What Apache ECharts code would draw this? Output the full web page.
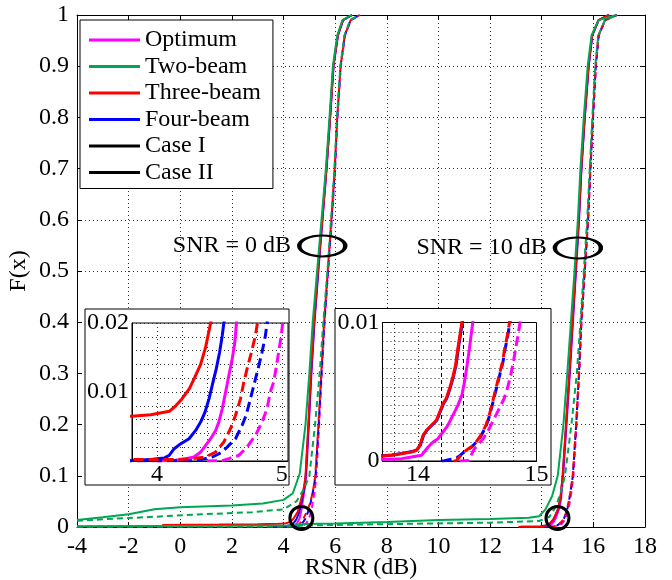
<!DOCTYPE html>
<html><head><meta charset="utf-8">
<script src="https://cdn.jsdelivr.net/npm/echarts@6/dist/echarts.min.js"></script>
<style>html,body{margin:0;padding:0;background:#fff}#c{width:672px;height:580px}</style>
</head><body><div id="c"></div>
<script>
const FONT = "'Liberation Serif','Times New Roman',Times,serif";

// ---------- names / labels ----------
const methodNames = ['Optimum', 'Two-beam', 'Three-beam', 'Four-beam'];
const caseNames = ['Case I', 'Case II'];
const snrLabels = ['SNR = 0 dB', 'SNR = 10 dB'];
const mainXTicks = [-4, 18, 2];        // min, max, step
const mainYTicks = [0, 1, 0.1];
const inset1XRange = [3.8, 5.05, 0.2];
const inset1YRange = [0, 0.02, 0.002];
const inset1XLabels = [4, 5];
const inset1YLabels = [0.01, 0.02];
const inset2XRange = [13.7, 15, 0.1];
const inset2XLabels = [14, 15];
const inset2YRange = [0, 0.01, 0.01];
const inset2XGrid = [13.8, 14.0, 14.6, 14.8];
const inset2XMarks = [14.2, 14.38];
const inset2YGrid = [0.00067, 0.00133, 0.002, 0.00267, 0.00333, 0.004, 0.00467, 0.00533, 0.006, 0.00667, 0.00733, 0.008, 0.00867, 0.00933];

// ---------- SNR = 0 dB curves [RSNR, F] ----------
const optimumI0 = [[4.0,0],[4.151,0.0001],[4.231,0.00034],[4.297,0.00058],[4.35,0.0013],[4.39,0.00227],[4.43,0.00323],[4.47,0.00443],[4.496,0.00564],[4.523,0.00757],[4.55,0.00998],[4.576,0.01239],[4.603,0.0148],[4.624,0.0172],[4.637,0.02],[4.68,0.03],[4.73,0.045],[4.82,0.075],[4.88,0.1],[4.98,0.2],[5.08,0.3],[5.2,0.4],[5.35,0.5],[5.51,0.6],[5.67,0.7],[5.81,0.8],[5.94,0.9],[6.11,0.96],[6.31,0.99],[6.66,1]];
const optimumII0 = [[4.4,0],[4.523,0.00005],[4.576,0.00034],[4.656,0.00082],[4.722,0.00202],[4.789,0.00371],[4.842,0.00564],[4.882,0.00757],[4.908,0.00998],[4.935,0.01142],[4.954,0.01335],[4.975,0.01576],[4.996,0.01817],[5.007,0.02],[5.07,0.03],[5.14,0.05],[5.22,0.075],[5.27,0.1],[5.38,0.2],[5.48,0.3],[5.59,0.4],[5.73,0.5],[5.87,0.6],[6.0,0.7],[6.09,0.8],[6.22,0.9],[6.38,0.96],[6.61,0.99],[6.96,1]];
const twoI0 = [[-4,0.0137],[-3,0.019],[-2,0.025],[-1,0.0345],[0,0.0385],[2,0.042],[3.2,0.046],[4,0.053],[4.36,0.066],[4.63,0.105],[4.85,0.2],[5.0,0.3],[5.13,0.4],[5.3,0.5],[5.47,0.6],[5.64,0.7],[5.78,0.8],[5.91,0.9],[6.08,0.96],[6.28,0.99],[6.65,1]];
const twoII0 = [[-4,0.012],[-3,0.015],[-1,0.02],[0.9,0.025],[2.8,0.029],[4,0.0345],[4.5,0.05],[4.8,0.075],[5.0,0.1],[5.22,0.2],[5.4,0.3],[5.54,0.4],[5.7,0.5],[5.84,0.6],[5.97,0.7],[6.07,0.8],[6.2,0.9],[6.36,0.96],[6.58,0.99],[6.95,1]];
const threeI0 = [[-0.7,0.004],[1.5,0.0047],[3,0.0055],[3.8,0.0065],[3.95,0.0067],[4.1,0.0072],[4.15,0.008],[4.2,0.009],[4.26,0.0105],[4.3,0.012],[4.35,0.014],[4.39,0.0165],[4.43,0.02],[4.55,0.03],[4.66,0.05],[4.8,0.08],[4.85,0.1],[4.96,0.2],[5.06,0.3],[5.18,0.4],[5.33,0.5],[5.5,0.6],[5.66,0.7],[5.8,0.8],[5.93,0.9],[6.1,0.96],[6.3,0.99],[6.65,1]];
const threeII0 = [[-4,0.0002],[3.8,0.0002],[4.151,0.0002],[4.284,0.00034],[4.39,0.00058],[4.47,0.0013],[4.536,0.00275],[4.589,0.00467],[4.629,0.0066],[4.669,0.00901],[4.696,0.01142],[4.722,0.01335],[4.757,0.01576],[4.789,0.01817],[4.805,0.02],[4.9,0.03],[5.02,0.045],[5.14,0.07],[5.23,0.1],[5.35,0.2],[5.46,0.3],[5.57,0.4],[5.71,0.5],[5.85,0.6],[5.98,0.7],[6.08,0.8],[6.21,0.9],[6.37,0.96],[6.6,0.99],[6.95,1]];
const fourI0 = [[3.6,0],[3.858,0.0001],[3.965,0.00024],[4.058,0.00043],[4.098,0.00082],[4.138,0.00178],[4.191,0.00251],[4.257,0.00323],[4.31,0.00443],[4.35,0.00564],[4.385,0.00708],[4.417,0.00901],[4.449,0.01142],[4.475,0.01335],[4.502,0.01576],[4.523,0.01817],[4.536,0.02],[4.6,0.028],[4.68,0.045],[4.8,0.075],[4.86,0.1],[4.97,0.2],[5.07,0.3],[5.19,0.4],[5.34,0.5],[5.5,0.6],[5.66,0.7],[5.8,0.8],[5.93,0.9],[6.1,0.96],[6.3,0.99],[6.65,1]];
const fourII0 = [[3.6,0],[4.297,0.00005],[4.364,0.00024],[4.443,0.00058],[4.523,0.0013],[4.576,0.00227],[4.629,0.00323],[4.682,0.00516],[4.714,0.0066],[4.749,0.00901],[4.776,0.01094],[4.81,0.01335],[4.842,0.01576],[4.869,0.01817],[4.882,0.02],[4.95,0.03],[5.06,0.05],[5.16,0.075],[5.24,0.1],[5.36,0.2],[5.47,0.3],[5.58,0.4],[5.72,0.5],[5.86,0.6],[5.99,0.7],[6.08,0.8],[6.21,0.9],[6.37,0.96],[6.6,0.99],[6.95,1]];

// ---------- SNR = 10 dB curves [RSNR, F] ----------
const optimumI10 = [[13.3,0.0001],[13.7,0.00012],[13.778,0.00012],[13.862,0.00017],[13.945,0.00029],[14.029,0.00041],[14.085,0.00101],[14.127,0.00137],[14.169,0.00161],[14.211,0.0021],[14.252,0.00258],[14.294,0.0033],[14.336,0.00402],[14.37,0.00475],[14.392,0.00571],[14.414,0.00692],[14.434,0.00812],[14.448,0.00908],[14.462,0.01],[14.52,0.015],[14.58,0.022],[14.67,0.035],[14.75,0.055],[14.83,0.1],[14.96,0.2],[15.09,0.3],[15.21,0.4],[15.33,0.5],[15.45,0.6],[15.54,0.7],[15.67,0.8],[15.82,0.9],[15.96,0.96],[16.21,0.99],[16.62,1]];
const optimumII10 = [[14.35,0],[14.428,0.00003],[14.448,0.00041],[14.476,0.00089],[14.517,0.00125],[14.559,0.00173],[14.601,0.00234],[14.643,0.00306],[14.685,0.00378],[14.727,0.00451],[14.754,0.00523],[14.782,0.00619],[14.805,0.00716],[14.824,0.00812],[14.844,0.00908],[14.861,0.01],[14.91,0.015],[14.97,0.023],[15.05,0.038],[15.14,0.065],[15.23,0.1],[15.35,0.2],[15.45,0.3],[15.54,0.4],[15.67,0.5],[15.8,0.6],[15.89,0.7],[15.99,0.8],[16.1,0.9],[16.21,0.96],[16.46,0.99],[16.92,1]];
const twoI10 = [[-4,0.0015],[2,0.0022],[4.4,0.003],[4.8,0.006],[6,0.007],[8,0.01],[10,0.0135],[12,0.0157],[13.5,0.018],[13.9,0.021],[14.15,0.035],[14.4,0.06],[14.62,0.1],[14.84,0.2],[14.99,0.3],[15.13,0.4],[15.27,0.5],[15.4,0.6],[15.5,0.7],[15.63,0.8],[15.78,0.9],[15.93,0.96],[16.2,0.99],[16.9,1]];
const twoII10 = [[-4,0.001],[4.5,0.0025],[6,0.004],[8.5,0.006],[10,0.007],[12,0.0085],[13.9,0.0117],[14.3,0.02],[14.55,0.04],[14.75,0.07],[14.9,0.1],[15.15,0.2],[15.36,0.3],[15.5,0.4],[15.63,0.5],[15.76,0.6],[15.86,0.7],[15.96,0.8],[16.07,0.9],[16.19,0.96],[16.45,0.99],[16.9,1]];
const threeI10 = [[13.1,0.0003],[13.7,0.00036],[13.778,0.00041],[13.862,0.00053],[13.945,0.00065],[13.987,0.00077],[14.015,0.00113],[14.043,0.00186],[14.071,0.00222],[14.113,0.00258],[14.155,0.00294],[14.183,0.00354],[14.211,0.00414],[14.238,0.00451],[14.266,0.00523],[14.294,0.00607],[14.317,0.00692],[14.336,0.00812],[14.358,0.00933],[14.37,0.01],[14.45,0.015],[14.52,0.022],[14.63,0.035],[14.72,0.055],[14.81,0.1],[14.94,0.2],[15.07,0.3],[15.19,0.4],[15.31,0.5],[15.43,0.6],[15.53,0.7],[15.66,0.8],[15.81,0.9],[15.95,0.96],[16.2,0.99],[16.6,1]];
const threeII10 = [[14.3,0],[14.322,0.00002],[14.35,0.00029],[14.37,0.00053],[14.406,0.00077],[14.448,0.00101],[14.489,0.00137],[14.531,0.00186],[14.573,0.00258],[14.601,0.0033],[14.629,0.00427],[14.657,0.00523],[14.685,0.00619],[14.713,0.00716],[14.732,0.00812],[14.754,0.00908],[14.768,0.00981],[14.78,0.0105],[14.85,0.016],[14.92,0.024],[15.0,0.038],[15.1,0.065],[15.2,0.1],[15.33,0.2],[15.44,0.3],[15.53,0.4],[15.66,0.5],[15.79,0.6],[15.88,0.7],[15.98,0.8],[16.09,0.9],[16.2,0.96],[16.45,0.99],[16.9,1]];
const fourI10 = [[13.2,0.0003],[13.7,0.00038],[13.78,0.00043],[13.865,0.00055],[13.95,0.00068],[13.99,0.0008],[14.02,0.00115],[14.047,0.00186],[14.075,0.00222],[14.117,0.00258],[14.159,0.00294],[14.187,0.00354],[14.215,0.00414],[14.242,0.00451],[14.27,0.00523],[14.298,0.00607],[14.321,0.00692],[14.34,0.00812],[14.362,0.00933],[14.374,0.01],[14.455,0.015],[14.525,0.022],[14.635,0.035],[14.725,0.055],[14.815,0.1],[14.945,0.2],[15.075,0.3],[15.195,0.4],[15.315,0.5],[15.435,0.6],[15.535,0.7],[15.665,0.8],[15.815,0.9],[15.955,0.96],[16.2,0.99],[16.6,1]];
const fourII10 = [[14.2,0],[14.224,0.00002],[14.26,0.0001],[14.3,0.00015],[14.33,0.00025],[14.355,0.0004],[14.375,0.00055],[14.41,0.00077],[14.452,0.00101],[14.493,0.00137],[14.535,0.00186],[14.577,0.00258],[14.605,0.0033],[14.633,0.00427],[14.661,0.00523],[14.689,0.00619],[14.717,0.00716],[14.736,0.00812],[14.758,0.00908],[14.772,0.00981],[14.785,0.0105],[14.855,0.016],[14.925,0.024],[15.005,0.038],[15.105,0.065],[15.205,0.1],[15.335,0.2],[15.445,0.3],[15.535,0.4],[15.665,0.5],[15.795,0.6],[15.885,0.7],[15.985,0.8],[16.095,0.9],[16.205,0.96],[16.45,0.99],[16.9,1]];

// ---------- annotations [RSNR, F] ----------
const snrEllipses = [[5.5, 0.549], [15.4, 0.545]];
const zoomCircles = [[4.69, 0.0176], [14.61, 0.0176]];

// ---------- build ----------
const methodColor = {'Optimum':'#FF00FF','Two-beam':'#00A651','Three-beam':'#FF0000','Four-beam':'#0000FF'};
const curves = [
  {m:'Optimum', dashed:false, snr:0, d:optimumI0}, {m:'Optimum', dashed:true, snr:0, d:optimumII0},
  {m:'Optimum', dashed:false, snr:10, d:optimumI10}, {m:'Optimum', dashed:true, snr:10, d:optimumII10},
  {m:'Four-beam', dashed:false, snr:0, d:fourI0}, {m:'Four-beam', dashed:true, snr:0, d:fourII0},
  {m:'Four-beam', dashed:false, snr:10, d:fourI10}, {m:'Four-beam', dashed:true, snr:10, d:fourII10},
  {m:'Three-beam', dashed:false, snr:0, d:threeI0}, {m:'Three-beam', dashed:true, snr:0, d:threeII0},
  {m:'Three-beam', dashed:false, snr:10, d:threeI10}, {m:'Three-beam', dashed:true, snr:10, d:threeII10},
  {m:'Two-beam', dashed:false, snr:0, d:twoI0}, {m:'Two-beam', dashed:true, snr:0, d:twoII0},
  {m:'Two-beam', dashed:false, snr:10, d:twoI10}, {m:'Two-beam', dashed:true, snr:10, d:twoII10}
];

const txt = {fontFamily: FONT, fontSize: 24, color: '#000'};
const dotted = {type: [1, 3], color: '#333', width: 1};
const black = {color: '#000', width: 1};

function lineSeries(c, xi, yi, width, dash, z) {
  return {
    type: 'line', name: c.m, xAxisIndex: xi, yAxisIndex: yi, data: c.d,
    symbol: 'none', showSymbol: false, silent: true, animation: false, z: z, clip: true,
    itemStyle: {color: methodColor[c.m]},
    lineStyle: {color: methodColor[c.m], width: width, type: c.dashed ? dash : 'solid'}
  };
}

const series = [];
series.push({type:'line', name: caseNames[0], data: [], itemStyle:{color:'#000'}, lineStyle:{color:'#000', type:'solid'}});
series.push({type:'line', name: caseNames[1], data: [], itemStyle:{color:'#000'}, lineStyle:{color:'#000', type:'dashed'}});
curves.forEach(c => series.push(lineSeries(c, 0, 0, 2, [6, 4], 2)));
series.push({
  type: 'scatter', xAxisIndex: 0, yAxisIndex: 0, silent: true, animation: false, z: 3,
  symbol: 'circle', symbolSize: [46, 21],
  data: snrEllipses.map((p, i) => ({value: p, name: snrLabels[i]})),
  itemStyle: {color: 'rgba(0,0,0,0)', borderColor: '#000', borderWidth: 3, opacity: 1},
  label: {show: true, position: 'left', distance: 6, formatter: p => p.name, ...txt}
});
series.push({
  type: 'scatter', xAxisIndex: 0, yAxisIndex: 0, silent: true, animation: false, z: 3,
  symbol: 'circle', symbolSize: 23, data: zoomCircles,
  itemStyle: {color: 'rgba(0,0,0,0)', borderColor: '#000', borderWidth: 3, opacity: 1}
});
// carrier for inset-2 grid lines (a single point draws no line)
series.push({
  type: 'line', xAxisIndex: 3, yAxisIndex: 3, data: [[inset2XRange[0], inset2YRange[0]]], z: 7, silent: true, animation: false,
  symbol: 'none', showSymbol: false, itemStyle: {color: '#333'}, lineStyle: {color: '#333', width: 1},
  markLine: {
    z: 7, silent: true, symbol: ['none', 'none'], label: {show: false}, animation: false, precision: 5,
    lineStyle: {type: [1, 3], color: '#333', width: 1, opacity: 1},
    data: inset2XGrid.map(v => ({xAxis: v}))
      .concat(inset2YGrid.map(v => ({yAxis: v})))
      .concat(inset2XMarks.map(v => ({xAxis: v, lineStyle: {type: [4, 3], color: '#000', width: 1}})))
  }
});
curves.filter(c => c.m !== 'Two-beam').forEach(c => {
  const ix = c.snr === 0 ? 2 : 3;
  series.push(lineSeries(c, ix, ix, 3, [10, 5], 8));
});

function near(v, list) { return list.find(t => Math.abs(v - t) < 1e-6); }

const option = {
  animation: false,
  backgroundColor: '#fff',
  textStyle: {fontFamily: FONT},
  legend: {
    data: methodNames.concat(caseNames), orient: 'vertical', left: 80, top: 20,
    icon: 'rect', itemWidth: 51, itemHeight: 3, itemGap: 2.5,
    padding: [8, 12, 4, 9], borderColor: '#000', borderWidth: 1, backgroundColor: '#fff',
    itemStyle: {borderWidth: 0},
    textStyle: {...txt, lineHeight: 24}, selectedMode: false
  },
  graphic: {elements: [
    {type: 'rect', z: 5, silent: true, shape: {x: 85, y: 309, width: 204, height: 176}, style: {fill: '#fff', stroke: '#000', lineWidth: 1}},
    {type: 'rect', z: 5, silent: true, shape: {x: 335, y: 308.5, width: 216, height: 176.5}, style: {fill: '#fff', stroke: '#000', lineWidth: 1}}
  ]},
  grid: [
    {left: 77, right: 27, top: 15, bottom: 53, outerBoundsMode: 'none', containLabel: false},
    {left: 132, top: 323, width: 156, height: 138, outerBoundsMode: 'none', show: true, backgroundColor: '#fff', borderColor: '#000', borderWidth: 1, z: 6},
    {left: 382.5, top: 322.5, width: 154, height: 138.5, outerBoundsMode: 'none', show: true, backgroundColor: '#fff', borderColor: '#000', borderWidth: 1, z: 6}
  ],
  xAxis: [
    {gridIndex: 0, type: 'value', position: 'bottom', min: mainXTicks[0], max: mainXTicks[1], interval: mainXTicks[2],
     axisLine: {onZero: false, lineStyle: black}, axisTick: {inside: true, length: 5, lineStyle: black},
     axisLabel: {...txt, margin: 8}, splitLine: {show: true, lineStyle: dotted},
     name: 'RSNR (dB)', nameLocation: 'middle', nameGap: 29, nameMoveOverlap: false, nameTextStyle: txt},
    {gridIndex: 0, type: 'value', position: 'top', min: mainXTicks[0], max: mainXTicks[1], interval: mainXTicks[2],
     axisLine: {onZero: false, lineStyle: black}, axisTick: {inside: true, length: 5, lineStyle: black},
     axisLabel: {show: false}, splitLine: {show: false}},
    {gridIndex: 1, type: 'value', min: inset1XRange[0], max: inset1XRange[1], interval: inset1XRange[2], z: 7,
     axisLine: {onZero: false, lineStyle: black}, axisTick: {show: false},
     axisLabel: {...txt, margin: 2, formatter: v => { const t = near(v, inset1XLabels); return t === undefined ? '' : String(t); }},
     splitLine: {show: true, lineStyle: dotted}},
    {gridIndex: 2, type: 'value', min: inset2XRange[0], max: inset2XRange[1], interval: inset2XRange[2], z: 7,
     axisLine: {onZero: false, lineStyle: black}, axisTick: {show: false},
     axisLabel: {...txt, margin: 2, formatter: v => { const t = near(v, inset2XLabels); return t === undefined ? '' : String(t); }},
     splitLine: {show: false}}
  ],
  yAxis: [
    {gridIndex: 0, type: 'value', position: 'left', min: mainYTicks[0], max: mainYTicks[1], interval: mainYTicks[2],
     axisLine: {onZero: false, lineStyle: black}, axisTick: {inside: true, length: 5, lineStyle: black},
     axisLabel: {...txt, margin: 8}, splitLine: {show: true, lineStyle: dotted},
     name: 'F(x)', nameLocation: 'middle', nameGap: 46, nameMoveOverlap: false, nameTextStyle: txt},
    {gridIndex: 0, type: 'value', position: 'right', min: mainYTicks[0], max: mainYTicks[1], interval: mainYTicks[2],
     axisLine: {onZero: false, lineStyle: black}, axisTick: {inside: true, length: 5, lineStyle: black},
     axisLabel: {show: false}, splitLine: {show: false}},
    {gridIndex: 1, type: 'value', min: inset1YRange[0], max: inset1YRange[1], interval: inset1YRange[2], z: 7,
     axisLine: {onZero: false, lineStyle: black}, axisTick: {show: false},
     axisLabel: {...txt, margin: 3, formatter: v => { const t = near(v, inset1YLabels); return t === undefined ? '' : String(t); }},
     splitLine: {show: true, lineStyle: dotted}},
    {gridIndex: 2, type: 'value', min: inset2YRange[0], max: inset2YRange[1], interval: inset2YRange[2], z: 7,
     axisLine: {onZero: false, lineStyle: black}, axisTick: {show: false},
     axisLabel: {...txt, margin: 3}, splitLine: {show: false}}
  ],
  series: series
};

const chart = echarts.init(document.getElementById('c'));
chart.setOption(option);
</script>
</body></html>
